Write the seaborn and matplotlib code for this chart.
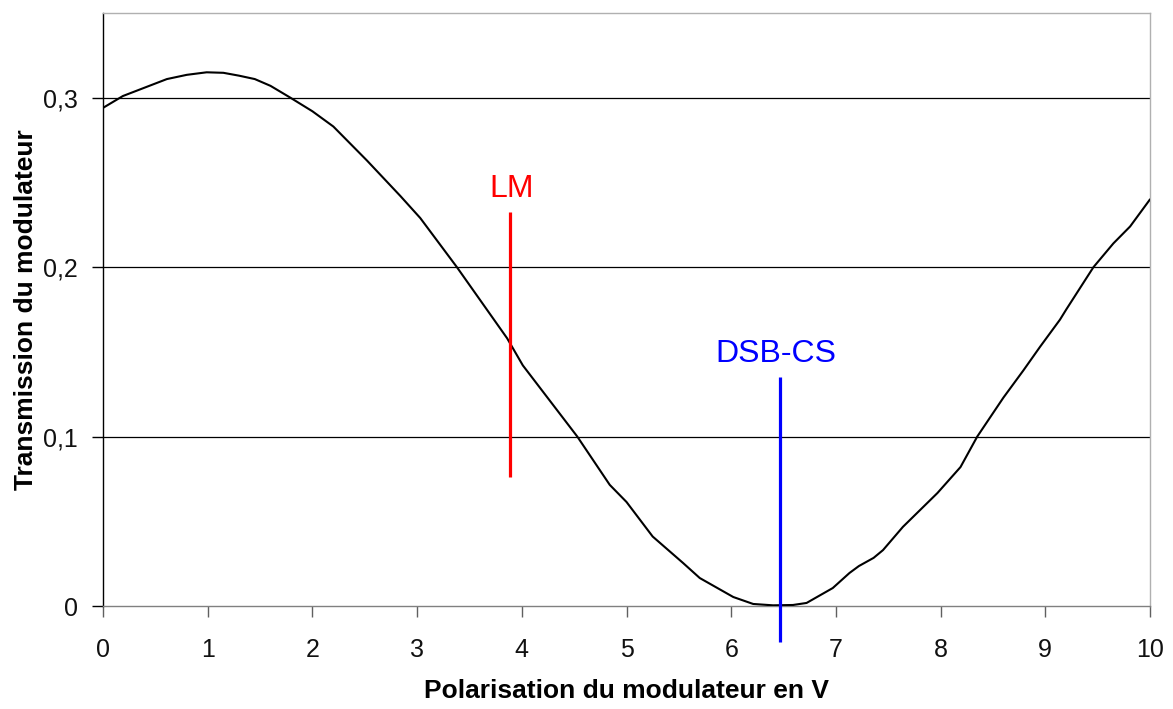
import matplotlib
matplotlib.use("Agg")
import matplotlib.pyplot as plt
import pandas as pd
import seaborn as sns

# transmission curve
voltage = [0.0, 0.19, 0.4, 0.61, 0.8, 0.99, 1.15, 1.3, 1.45, 1.6, 1.79,
           2.0, 2.2, 2.52, 2.84, 3.03, 3.38, 3.86, 4.01, 4.53, 4.84, 5.0,
           5.25, 5.54, 5.7, 6.02, 6.21, 6.4, 6.59, 6.72, 6.97, 7.13, 7.22,
           7.36, 7.45, 7.64, 7.97, 8.19, 8.35, 8.6, 8.79, 8.95, 9.14, 9.2,
           9.46, 9.65, 9.81, 10.0]
transmission = [0.294, 0.301, 0.306, 0.311, 0.3135, 0.315, 0.3147, 0.313,
                0.311, 0.307, 0.300, 0.292, 0.283, 0.263, 0.242, 0.229,
                0.200, 0.158, 0.142, 0.100, 0.0715, 0.0614, 0.041, 0.0254,
                0.0165, 0.0053, 0.0012, 0.0004, 0.0006, 0.0018, 0.0106,
                0.0195, 0.0236, 0.0284, 0.033, 0.0467, 0.0667, 0.082, 0.100,
                0.123, 0.139, 0.153, 0.169, 0.175, 0.200, 0.214, 0.224, 0.240]

# operating points
point_names = ["LM", "DSB-CS"]
point_x = [3.89, 6.47]
point_lo = [0.0762, -0.021]
point_hi = [0.2327, 0.135]
point_colors = ["#ff0000", "#0000ff"]
label_x = [3.90, 6.43]
label_y = [0.2463, 0.149]

yticks = [0, 0.1, 0.2, 0.3]
yticklabels = ["0", "0,1", "0,2", "0,3"]

sns.set_style("white")
plt.rcParams["font.family"] = ["Liberation Sans", "DejaVu Sans"]

df = pd.DataFrame({"V": voltage, "T": transmission})

fig = plt.figure(figsize=(11.73, 7.09), dpi=100)
ax = fig.add_axes([103 / 1173, 103 / 709, 1047 / 1173, 593 / 709])

for y in yticks[1:]:
    ax.axhline(y, color="black", lw=0.9, zorder=1)

sns.lineplot(data=df, x="V", y="T", color="black", lw=1.5, ax=ax, zorder=3)

for name, x, lo, hi, c, tx, ty in zip(point_names, point_x, point_lo, point_hi,
                                      point_colors, label_x, label_y):
    ax.vlines(x, lo, hi, color=c, lw=2.3, zorder=4, clip_on=False)
    ax.text(tx, ty, name, color=c, fontsize=23, ha="center", va="center")

ax.set_xlim(0, 10)
ax.set_ylim(0, 0.35)
ax.set_xticks(range(0, 11))
ax.set_yticks(yticks)
ax.set_yticklabels(yticklabels)
ax.tick_params(axis="both", direction="out", length=8, width=1, colors="black",
               labelsize=18, labelcolor="#111111", bottom=True, left=True)
ax.tick_params(axis="x", pad=15, color="#606060")
ax.tick_params(axis="y", pad=10)

ax.spines["left"].set_color("black")
ax.spines["bottom"].set_color("#808080")
ax.spines["top"].set_color("#b0b0b0")
ax.spines["right"].set_color("#b0b0b0")
for s in ax.spines.values():
    s.set_linewidth(1.0)

ax.set_xlabel("Polarisation du modulateur en V", fontsize=19, fontweight="bold",
              labelpad=12, color="black")
ax.set_ylabel("Transmission du modulateur", fontsize=19, fontweight="bold",
              labelpad=4, color="black")

fig.savefig("out.png", dpi=100)
